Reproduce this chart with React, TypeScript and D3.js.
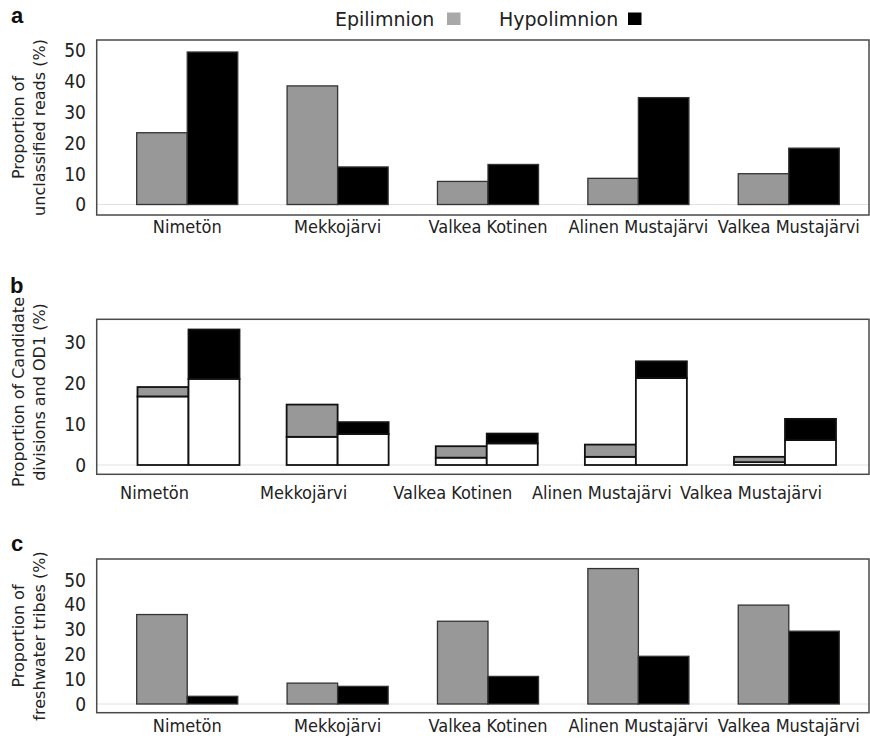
import React from "react";
import * as d3 from "d3";

const lakes = ["Nimetön", "Mekkojärvi", "Valkea Kotinen", "Alinen Mustajärvi", "Valkea Mustajärvi"];
const seriesNames = ["Epilimnion", "Hypolimnion"];

const unclassifiedEpi = [23.3, 38.5, 7.5, 8.5, 10.0];
const unclassifiedHypo = [49.5, 12.2, 13.0, 34.7, 18.3];

const candidateLowerEpi = [16.8, 6.9, 1.8, 2.0, 0.7];
const candidateUpperEpi = [2.3, 7.9, 2.8, 3.0, 1.3];
const candidateLowerHypo = [21.1, 7.6, 5.3, 21.3, 6.1];
const candidateUpperHypo = [12.1, 2.9, 2.4, 4.1, 5.2];

const freshwaterEpi = [36.0, 8.4, 33.3, 54.5, 39.8];
const freshwaterHypo = [3.1, 7.1, 11.1, 19.2, 29.3];

const ticksA = [0, 10, 20, 30, 40, 50];
const ticksB = [0, 10, 20, 30];
const ticksC = [0, 10, 20, 30, 40, 50];

const W = 870;
const H = 742;
const FRAME_L = 96.7;
const FRAME_R = 869;
const GRAY = "#989898";
const BLACK = "#000";
const TICK_FONT = "'DejaVu Sans Condensed', 'DejaVu Sans', sans-serif";
const TITLE_FONT = "'DejaVu Sans', sans-serif";

function YAxis({ y, ticks }: { y: d3.ScaleLinear<number, number>; ticks: number[] }) {
  return (
    <g>
      {ticks.map((t) => (
        <text key={t} x={86} y={y(t)} dy="0.36em" textAnchor="end" fontFamily={TICK_FONT} fontSize={19} fill="#222">
          {t}
        </text>
      ))}
    </g>
  );
}

function Frame({ top, bottom, y }: { top: number; bottom: number; y: d3.ScaleLinear<number, number> }) {
  return (
    <g>
      <line x1={FRAME_L} x2={FRAME_R} y1={y(0)} y2={y(0)} stroke="#e2e2e2" strokeWidth={1} />
      <rect x={FRAME_L} y={top} width={FRAME_R - FRAME_L} height={bottom - top} fill="none" stroke="#4a4a4a" strokeWidth={1.5} />
    </g>
  );
}

function YTitle({ lines, cy }: { lines: string[]; cy: number }) {
  const xs = [24, 45];
  return (
    <g>
      {lines.map((l, i) => (
        <text
          key={i}
          transform={`translate(${xs[i]},${cy}) rotate(-90)`}
          textAnchor="middle"
          fontFamily={TITLE_FONT}
          fontSize={16}
          fill="#222"
        >
          {l}
        </text>
      ))}
    </g>
  );
}

function CategoryLabels({ x, baseline, shift }: { x: d3.ScaleBand<string>; baseline: number; shift: number }) {
  return (
    <g>
      {lakes.map((l) => (
        <text
          key={l}
          x={(x(l) as number) + x.bandwidth() / 2 + shift}
          y={baseline}
          textAnchor="middle"
          fontFamily={TICK_FONT}
          fontSize={18}
          fill="#222"
        >
          {l}
        </text>
      ))}
    </g>
  );
}

function PairedBars({
  x,
  y,
  epi,
  hypo,
}: {
  x: d3.ScaleBand<string>;
  y: d3.ScaleLinear<number, number>;
  epi: number[];
  hypo: number[];
}) {
  const sub = d3.scaleBand<string>().domain(seriesNames).range([0, x.bandwidth()]);
  return (
    <g>
      {lakes.map((l, i) => {
        const x0 = x(l) as number;
        return (
          <g key={l}>
            {[epi[i], hypo[i]].map((v, j) => (
              <rect
                key={j}
                x={x0 + (sub(seriesNames[j]) as number)}
                y={y(v)}
                width={sub.bandwidth()}
                height={y(0) - y(v)}
                fill={j === 0 ? GRAY : BLACK}
                stroke="#333"
                strokeWidth={1.3}
              />
            ))}
          </g>
        );
      })}
    </g>
  );
}

export default function App() {
  // Panel a
  const topA = 40, botA = 215;
  const yA = d3.scaleLinear().domain([-3.4, 53.4]).range([botA, topA]);
  const xA = d3.scaleBand<string>().domain(lakes).range([136.7, 839.3]).paddingInner(0.328).paddingOuter(0);

  // Panel b
  const topB = 319.3, botB = 474.3;
  const yB = d3.scaleLinear().domain([-2.28, 35.7]).range([botB, topB]);
  const xB = d3.scaleBand<string>().domain(lakes).range([137.5, 836]).paddingInner(0.316).paddingOuter(0);
  const subB = d3.scaleBand<string>().domain(seriesNames).range([0, xB.bandwidth()]);
  const stackRows = lakes.map((l, i) => ({
    lake: l,
    epiLower: candidateLowerEpi[i],
    epiUpper: candidateUpperEpi[i],
    hypoLower: candidateLowerHypo[i],
    hypoUpper: candidateUpperHypo[i],
  }));
  const stackEpi = d3.stack<any>().keys(["epiLower", "epiUpper"])(stackRows);
  const stackHypo = d3.stack<any>().keys(["hypoLower", "hypoUpper"])(stackRows);

  // Panel c
  const topC = 559, botC = 712.7;
  const yC = d3.scaleLinear().domain([-3.5, 58.35]).range([botC, topC]);
  const xC = xA;

  return (
    <svg width={W} height={H} style={{ position: "absolute", left: 0, top: 0, background: "#fff" }}>
      <rect x={0} y={0} width={W} height={H} fill="#fff" />

      {/* Panel letters */}
      <text x={11} y={23} fontFamily="'Liberation Sans', Arial, sans-serif" fontWeight="bold" fontSize={22} fill="#111">a</text>
      <text x={10} y={293} fontFamily="'Liberation Sans', Arial, sans-serif" fontWeight="bold" fontSize={22} fill="#111">b</text>
      <text x={11} y={551} fontFamily="'Liberation Sans', Arial, sans-serif" fontWeight="bold" fontSize={22} fill="#111">c</text>

      {/* Legend */}
      <g>
        <text x={335} y={26} fontFamily={TITLE_FONT} fontSize={19} fill="#222">{seriesNames[0]}</text>
        <rect x={447} y={12.5} width={13.5} height={12.5} fill="#a8a8a8" />
        <text x={499} y={26} fontFamily={TITLE_FONT} fontSize={19} fill="#222">{seriesNames[1]}</text>
        <rect x={628} y={12.5} width={13.5} height={12.5} fill="#000" />
      </g>

      {/* Panel a */}
      <Frame top={topA} bottom={botA} y={yA} />
      <PairedBars x={xA} y={yA} epi={unclassifiedEpi} hypo={unclassifiedHypo} />
      <YAxis y={yA} ticks={ticksA} />
      <YTitle lines={["Proportion of", "unclassified reads (%)"]} cy={127.5} />
      <CategoryLabels x={xA} baseline={233} shift={0} />

      {/* Panel b */}
      <Frame top={topB} bottom={botB} y={yB} />
      <g>
        {[stackEpi, stackHypo].map((stk, j) =>
          stk.map((layer, k) =>
            layer.map((d, i) => (
              <rect
                key={`${j}-${k}-${i}`}
                x={(xB(lakes[i]) as number) + (subB(seriesNames[j]) as number)}
                y={yB(d[1])}
                width={subB.bandwidth()}
                height={yB(d[0]) - yB(d[1])}
                fill={k === 0 ? "#fff" : j === 0 ? GRAY : BLACK}
                stroke="#111"
                strokeWidth={1.8}
              />
            ))
          )
        )}
      </g>
      <YAxis y={yB} ticks={ticksB} />
      <YTitle lines={["Proportion of Candidate", "divisions and OD1 (%)"]} cy={392} />
      <CategoryLabels x={xB} baseline={499} shift={-34} />

      {/* Panel c */}
      <Frame top={topC} bottom={botC} y={yC} />
      <PairedBars x={xC} y={yC} epi={freshwaterEpi} hypo={freshwaterHypo} />
      <YAxis y={yC} ticks={ticksC} />
      <YTitle lines={["Proportion of", "freshwater tribes (%)"]} cy={636} />
      <CategoryLabels x={xC} baseline={732} shift={0} />
    </svg>
  );
}
